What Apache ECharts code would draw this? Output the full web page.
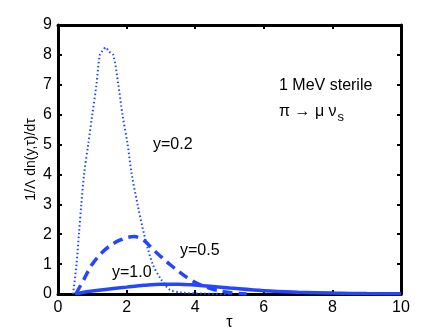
<!DOCTYPE html>
<html style="height: 100%">
<head>
<meta charset="utf-8">
</head>
<body style="height: 100%; margin: 0; background: #fff">
<div id="container" style="width: 443px; height: 333px"></div>
<script src="https://cdn.jsdelivr.net/npm/echarts@6/dist/echarts.min.js"></script>
<script>
// values
var xTicks = [0, 2, 4, 6, 8, 10];
var yTicks = [0, 1, 2, 3, 4, 5, 6, 7, 8, 9];

// y = 0.2 (dotted)
var tau02 = [0.44, 0.54, 0.61, 0.68, 0.76, 0.88, 1.0, 1.12, 1.22, 1.31, 1.39, 1.48, 1.61, 1.76, 1.88, 2.03, 2.15, 2.32, 2.51, 2.76, 3.0, 3.25, 3.6, 4.0, 5.0];
var val02 = [0, 1, 2, 3, 4, 5, 6, 7, 8, 8.15, 8.25, 8.12, 8, 7, 6, 5, 4, 3, 2, 1, 0.5, 0.15, 0.05, 0.02, 0];

// y = 0.5 (dashed)
var tau05 = [0.52, 0.76, 1.0, 1.39, 1.8, 2.22, 2.5, 2.76, 3.0, 3.25, 3.83, 4.4, 5.0, 5.5];
var val05 = [0, 0.5, 1.0, 1.5, 1.8, 1.92, 1.8, 1.5, 1.25, 1.0, 0.5, 0.2, 0.05, 0];

// y = 1.0 (solid)
var tau10 = [0.5, 0.75, 1.0, 1.5, 2.0, 2.5, 3.0, 3.5, 4.0, 4.5, 5.0, 6.0, 7.0, 8.0, 9.0, 10.0];
var val10 = [0, 0.06, 0.1, 0.17, 0.23, 0.29, 0.33, 0.33, 0.3, 0.25, 0.2, 0.11, 0.06, 0.03, 0.015, 0.01];

function pairs(xs, ys) {
  return xs.map(function (x, i) { return [x, ys[i]]; });
}

var blue = '#2546ff';
var font = 'Liberation Sans, Arial, sans-serif';

var myChart = echarts.init(document.getElementById('container'));

var axisCommon = {
  type: 'value',
  axisLine: { show: true, onZero: false, lineStyle: { color: '#000', width: 3 } },
  axisTick: { show: true, inside: true, length: 4, lineStyle: { color: '#000', width: 2 } },
  splitLine: { show: false }
};

var option = {
  animation: false,
  backgroundColor: '#fff',
  grid: { left: 58, right: 42, top: 25, bottom: 39, containLabel: false, outerBoundsMode: 'none' },
  xAxis: [
    Object.assign({}, axisCommon, {
      min: xTicks[0], max: xTicks[xTicks.length - 1], interval: 2,
      position: 'bottom',
      name: 'τ', nameLocation: 'middle', nameGap: 21, nameMoveOverlap: false,
      nameTextStyle: { fontFamily: font, fontSize: 16, color: '#000' },
      axisLabel: { fontFamily: font, fontSize: 16, color: '#000', margin: 6 }
    }),
    Object.assign({}, axisCommon, {
      min: xTicks[0], max: xTicks[xTicks.length - 1], interval: 2,
      position: 'top', axisLabel: { show: false }
    })
  ],
  yAxis: [
    Object.assign({}, axisCommon, {
      min: yTicks[0], max: yTicks[yTicks.length - 1], interval: 1,
      position: 'left',
      name: '1/Λ dn(y,τ)/dτ', nameLocation: 'middle', nameGap: 20, nameMoveOverlap: false,
      nameTextStyle: { fontFamily: font, fontSize: 14, color: '#000' },
      axisLabel: { fontFamily: font, fontSize: 16, color: '#000', margin: 6 }
    }),
    Object.assign({}, axisCommon, {
      min: yTicks[0], max: yTicks[yTicks.length - 1], interval: 1,
      position: 'right', axisLabel: { show: false }
    })
  ],
  series: [
    {
      type: 'line', name: 'y=0.2', data: pairs(tau02, val02), smooth: 0.3,
      showSymbol: false, z: 3,
      lineStyle: { color: blue, width: 2, type: [1.5, 2.5] }
    },
    {
      type: 'line', name: 'y=0.5', data: pairs(tau05, val05), smooth: 0.35,
      showSymbol: false, z: 4,
      lineStyle: { color: blue, width: 3.5, type: [10, 6] }
    },
    {
      type: 'line', name: 'y=1.0', data: pairs(tau10, val10), smooth: 0.35,
      showSymbol: false, z: 5,
      lineStyle: { color: blue, width: 3.5 }
    }
  ],
  graphic: [
    { type: 'text', left: 153, top: 137, style: { text: 'y=0.2', font: '16px ' + font, fill: '#000' } },
    { type: 'text', left: 180, top: 243, style: { text: 'y=0.5', font: '16px ' + font, fill: '#000' } },
    { type: 'text', left: 112, top: 265, style: { text: 'y=1.0', font: '16px ' + font, fill: '#000' } },
    { type: 'text', left: 279, top: 78, style: { text: '1 MeV sterile', font: '16px ' + font, fill: '#000' } },
    {
      type: 'text', left: 279, top: 104,
      style: {
        text: '{a|π → μ ν}{s|s}',
        rich: {
          a: { font: '16px ' + font, fill: '#000' },
          s: { font: '13px ' + font, fill: '#000', padding: [10, 0, 0, 1] }
        }
      }
    }
  ]
};

myChart.setOption(option);
</script>
</body>
</html>
